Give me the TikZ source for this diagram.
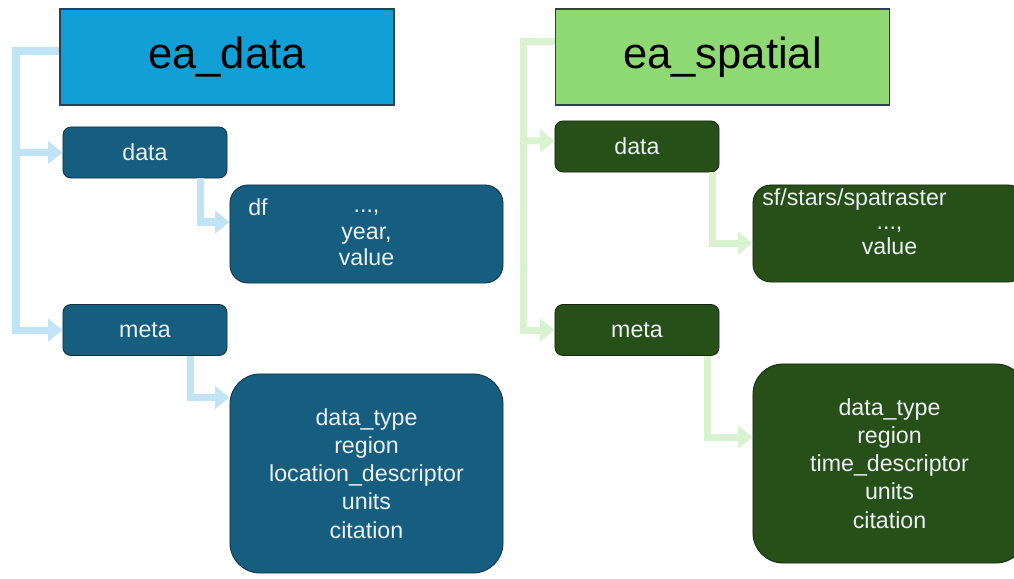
\documentclass[tikz,border=0pt]{standalone}
\usepackage{fontspec}
\setmainfont{Liberation Sans}
\usetikzlibrary{arrows.meta}

\definecolor{titleblue}{RGB}{17,159,214}
\definecolor{titlegreen}{RGB}{142,217,115}
\definecolor{keyblue}{RGB}{22,94,128}
\definecolor{keygreen}{RGB}{39,80,24}
\definecolor{edgeblue}{RGB}{12,48,68}
\definecolor{edgegreen}{RGB}{20,40,12}
\definecolor{titleedge}{RGB}{44,62,80}
\definecolor{linkblue}{RGB}{192,228,245}
\definecolor{linkgreen}{RGB}{217,242,208}
\definecolor{lbl}{RGB}{236,241,245}

\begin{document}
\begin{tikzpicture}[x=0.025cm, y=-0.025cm,
    titlebox/.style={draw=titleedge, line width=0.8pt, minimum width=8.35cm, minimum height=2.4cm,
        inner sep=0pt, font=\fontsize{31}{36}\selectfont},
    keybox/.style={line width=0.6pt, rounded corners=0.2cm, minimum width=4.1cm, minimum height=1.275cm,
        inner sep=0pt, text=lbl, font=\fontsize{16.5}{20}\selectfont},
    valbox/.style={keybox, align=center, minimum width=6.825cm},
    keytext/.style={text=lbl, inner sep=0pt, align=center, font=\fontsize{16.5}{19}\selectfont},
    link/.style={line width=0.175cm, -{Triangle[length=0.36cm,width=0.55cm]}}
]
    \clip (0,0) rectangle (1014,579);

    % ---- ea_data ----
    \node[titlebox, fill=titleblue] (edata) at (227,57) {ea\_data};
    \node[keybox, fill=keyblue, draw=edgeblue] (edatakey) at (145,152.5) {data};
    \node[keybox, fill=keyblue, draw=edgeblue] (emetakey) at (145,330) {meta};
    \node[valbox, fill=keyblue, draw=edgeblue, minimum height=2.45cm, rounded corners=0.45cm]
        (edf) at (366.5,234) {};
    \node[keytext] (edftxt) at (366.5,238) {...,\\year,\\value};
    \node[keytext, anchor=west] (edflbl) at (248,207) {df};
    \node[valbox, fill=keyblue, draw=edgeblue, minimum height=4.975cm, rounded corners=0.75cm]
        (emeta) at (366.5,473.5) {data\_type\\region\\location\_descriptor\\units\\citation};

    \coordinate (lfork) at (16,152.5);
    \coordinate (lturn) at (16,330);
    \draw[link, linkblue] ([yshift=0.15cm]edata.west) -| (lturn) -- (emetakey.west);
    \draw[link, linkblue] (lfork) -- (edatakey.west);
    \draw[link, linkblue] ([xshift=1.375cm]edatakey.south) |- ([yshift=0.3cm]edf.west);
    \draw[link, linkblue] ([xshift=1.125cm]emetakey.south) |- ([yshift=1.9cm]emeta.west);

    % ---- ea_spatial ----
    \node[titlebox, fill=titlegreen] (espatial) at (722.5,57) {ea\_spatial};
    \node[keybox, fill=keygreen, draw=edgegreen] (sdatakey) at (637,146.5) {data};
    \node[keybox, fill=keygreen, draw=edgegreen] (smetakey) at (637,330) {meta};
    \node[valbox, fill=keygreen, draw=edgegreen, minimum height=2.425cm, rounded corners=0.45cm]
        (ssf) at (889.5,233.5) {};
    \node[keytext, font=\fontsize{16.5}{17.5}\selectfont] (ssftxt) at (889.5,241) {...,\\value};
    \node[keytext, anchor=west] (ssflbl) at (762,199) {sf/stars/spatraster};
    \node[valbox, fill=keygreen, draw=edgegreen, minimum height=4.975cm, rounded corners=0.75cm]
        (smeta) at (889.5,463.5) {data\_type\\region\\time\_descriptor\\units\\citation};

    \coordinate (rfork) at (523,141);
    \coordinate (rturn) at (523,330);
    \draw[link, linkgreen] ([yshift=0.375cm]espatial.west) -| (rturn) -- (smetakey.west);
    \draw[link, linkgreen] (rfork) -- ([yshift=0.14cm]sdatakey.west);
    \draw[link, linkgreen] ([xshift=1.875cm]sdatakey.south) |- ([yshift=-0.24cm]ssf.west);
    \draw[link, linkgreen] ([xshift=1.75cm]smetakey.south) |- ([yshift=0.66cm]smeta.west);
\end{tikzpicture}
\end{document}
